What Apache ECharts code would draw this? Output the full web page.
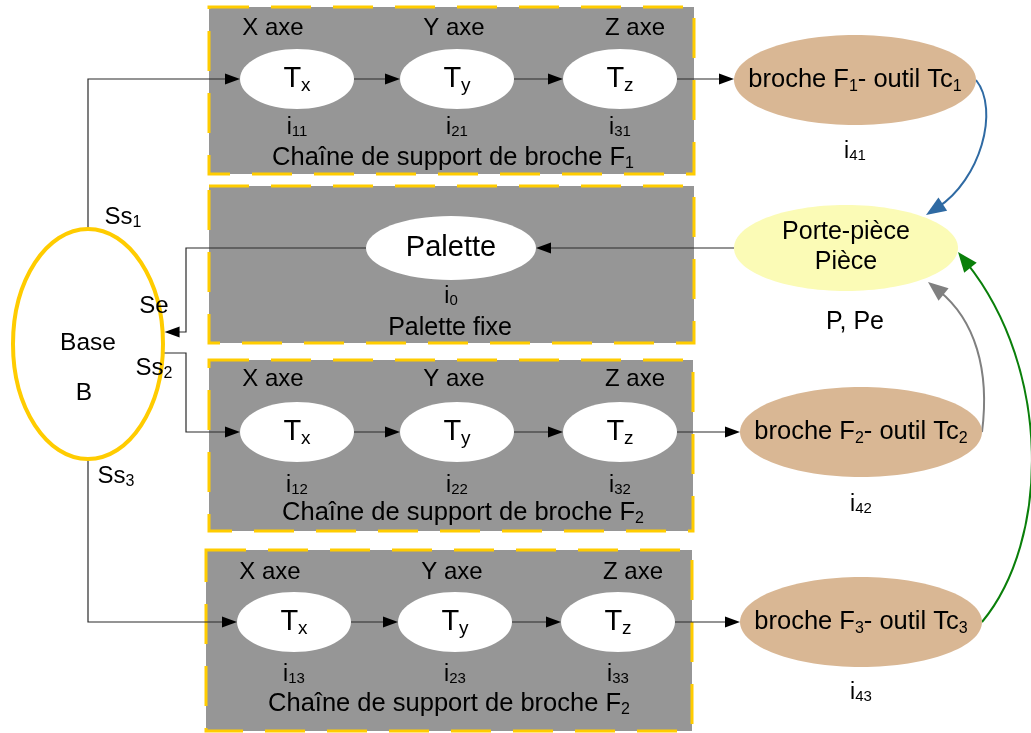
<!DOCTYPE html>
<html>
<head>
<meta charset="utf-8">
<script src="https://cdn.jsdelivr.net/npm/echarts@6/dist/echarts.min.js"></script>
<style>
html,body{margin:0;padding:0;background:#fff;}
#c{width:1031px;height:733px;}
</style>
</head>
<body>
<div id="c"></div>
<script>
// ---------------- data (texts of the diagram) ----------------
const axisLabels = ['X axe', 'Y axe', 'Z axe'];
const jointSubs = ['x', 'y', 'z'];                       // T_x, T_y, T_z
const chainIndexSubs = [['11', '21', '31'], ['12', '22', '32'], ['13', '23', '33']];
const chainTitleText = 'Chaîne de support de broche F';
const chainTitleSubs = ['1', '2', '2'];
const spindleSubs = ['1', '2', '3'];                     // broche F_n- outil Tc_n
const spindleIndexSubs = ['41', '42', '43'];
const baseOutputSubs = ['1', '2', '3'];                  // Ss_n
const paletteNode = 'Palette';
const paletteIndexSub = '0';
const paletteTitle = 'Palette fixe';
const workpieceLines = ['Porte-pièce', 'Pièce'];
const workpieceNote = 'P, Pe';
const baseLines = ['Base', 'B'];
const baseInput = 'Se';

// ---------------- layout (data space = canvas units) ----------------
const G = {
  chains: [
    {box: [209, 7, 694, 174], y: 79, cols: [297, 457, 620], axisY: 28, idxY: 128, titleX: 453, titleY: 158},
    {box: [209, 360, 693, 531], y: 432, cols: [297, 457, 620], axisY: 379, idxY: 486, titleX: 463, titleY: 513},
    {box: [206, 550, 692, 731], y: 622, cols: [294, 455, 618], axisY: 572, idxY: 675, titleX: 449, titleY: 704}
  ],
  axisDx: [-24, -3, 15],
  joint: {rx: 57, ry: 30},
  spindles: [{x: 855, y: 80, idxY: 152}, {x: 861, y: 432, idxY: 505}, {x: 861, y: 622, idxY: 693}],
  spindle: {rx: 121, ry: 45},
  paletteBox: [209, 186, 694, 343],
  palette: {x: 451, y: 248, rx: 85, ry: 32, idxY: 297, titleX: 450, titleY: 328},
  work: {x: 846, y: 248, rx: 112, ry: 43, line1Y: 232, line2Y: 262, noteX: 855, noteY: 322},
  base: {x: 88, y: 344, rx: 75, ry: 115, line1X: 88, line1Y: 343, line2X: 84, line2Y: 393},
  ssPos: [[123, 217], [154, 368], [116, 476]],
  sePos: [154, 306],
  busX: 186, ss2Y: 353, seY: 332,
  curves: [
    {c1: [1000, 110], c2: [980, 180], end: [926, 215], color: '#2F6AA3'},
    {c1: [990, 370], c2: [975, 320], end: [928, 282], color: '#808080'},
    {c1: [1050, 540], c2: [1052, 370], end: [958, 252], color: '#0A7F0A'}
  ]
};

const FONT = '"Liberation Sans", Arial, Helvetica, sans-serif';
const LINE = '#2a2a2a';
const BOX_FILL = '#969696';
const YELLOW = '#FFCC00';
const SPINDLE_FILL = '#D9B794';
const WORK_FILL = '#FBFBB6';

// ---------------- element builders ----------------
const elements = [];

function richStyle(mainSize, subSize, drop) {
  const k = 0.34;
  const pad = Math.max(0, 2 * (drop + k * (mainSize - subSize)));
  return {
    m: {fontSize: mainSize, fontFamily: FONT, fill: '#000', lineHeight: mainSize + 4},
    s: {fontSize: subSize, fontFamily: FONT, fill: '#000', padding: [pad, 0, 0, 0]}
  };
}

function addText(x, y, parts, mainSize, subSize, drop) {
  const text = parts.map(p => '{' + p[0] + '|' + p[1] + '}').join('');
  const rich = richStyle(mainSize, subSize || mainSize, drop || 0);
  elements.push(api => {
    const c = api.coord([x, y]);
    return {
      type: 'text', x: c[0], y: c[1], z2: 10,
      style: {text: text, rich: rich, align: 'center', verticalAlign: 'middle',
              fontSize: mainSize, fontFamily: FONT, fill: '#000'}
    };
  });
}

function addBox(b) {
  elements.push(api => {
    const p0 = api.coord([b[0], b[1]]), p1 = api.coord([b[2], b[3]]);
    return {
      type: 'rect', z2: 0,
      shape: {x: p0[0], y: p0[1], width: p1[0] - p0[0], height: p1[1] - p0[1]},
      style: {fill: BOX_FILL, stroke: YELLOW, lineWidth: 3, lineDash: [40, 22]}
    };
  });
}

function addEllipse(cx, cy, rx, ry, fill, stroke, lw) {
  elements.push(api => {
    const c = api.coord([cx, cy]);
    const s = api.size([rx, ry]);
    return {
      type: 'ellipse', z2: 5,
      shape: {cx: c[0], cy: c[1], rx: s[0], ry: s[1]},
      style: {fill: fill, stroke: stroke || null, lineWidth: lw || 0}
    };
  });
}

function arrowHead(tip, from, len, half, color) {
  const dx = tip[0] - from[0], dy = tip[1] - from[1];
  const d = Math.sqrt(dx * dx + dy * dy) || 1;
  const ux = dx / d, uy = dy / d;
  const bx = tip[0] - ux * len, by = tip[1] - uy * len;
  return {
    type: 'polygon', z2: 4,
    shape: {points: [tip, [bx - uy * half, by + ux * half], [bx + uy * half, by - ux * half]]},
    style: {fill: color, stroke: null}
  };
}

function addArrowLine(points) {
  elements.push(api => {
    const pts = points.map(p => api.coord(p));
    const n = pts.length;
    const tip = pts[n - 1], prev = pts[n - 2];
    const dx = tip[0] - prev[0], dy = tip[1] - prev[1];
    const d = Math.sqrt(dx * dx + dy * dy) || 1;
    const lineEnd = pts.slice(0, n - 1).concat([[tip[0] - dx / d * 10, tip[1] - dy / d * 10]]);
    return {
      type: 'group',
      children: [
        {type: 'polyline', z2: 3, shape: {points: lineEnd},
         style: {stroke: LINE, lineWidth: 1.2, fill: null}},
        arrowHead(tip, prev, 15, 5.5, '#000')
      ]
    };
  });
}

function addCurve(start, c1, c2, end, color) {
  elements.push(api => {
    const p0 = api.coord(start), p1 = api.coord(c1), p2 = api.coord(c2), p3 = api.coord(end);
    const dx = p3[0] - p2[0], dy = p3[1] - p2[1];
    const d = Math.sqrt(dx * dx + dy * dy) || 1;
    const e = [p3[0] - dx / d * 14, p3[1] - dy / d * 14];
    return {
      type: 'group',
      children: [
        {type: 'bezierCurve', z2: 3,
         shape: {x1: p0[0], y1: p0[1], cpx1: p1[0], cpy1: p1[1], cpx2: p2[0], cpy2: p2[1], x2: e[0], y2: e[1]},
         style: {stroke: color, lineWidth: 2, fill: null}},
        arrowHead(p3, p2, 20, 8, color)
      ]
    };
  });
}

function baseEdgeX(y) {
  const b = G.base;
  const t = (y - b.y) / b.ry;
  return b.x + b.rx * Math.sqrt(Math.max(0, 1 - t * t));
}

// ---------------- build the diagram ----------------
G.chains.forEach(ch => addBox(ch.box));
addBox(G.paletteBox);

G.chains.forEach((ch, r) => {
  const jr = G.joint.rx;
  for (let c = 0; c < 2; c++) {
    addArrowLine([[ch.cols[c] + jr, ch.y], [ch.cols[c + 1] - jr, ch.y]]);
  }
  const sp = G.spindles[r];
  addArrowLine([[ch.cols[2] + jr, ch.y], [sp.x - G.spindle.rx, ch.y]]);
});

const b = G.base;
const ch0 = G.chains[0], ch1 = G.chains[1], ch2 = G.chains[2];
addArrowLine([[b.x, b.y - b.ry], [b.x, ch0.y], [ch0.cols[0] - G.joint.rx, ch0.y]]);
addArrowLine([[baseEdgeX(G.ss2Y), G.ss2Y], [G.busX, G.ss2Y], [G.busX, ch1.y], [ch1.cols[0] - G.joint.rx, ch1.y]]);
addArrowLine([[b.x, b.y + b.ry], [b.x, ch2.y], [ch2.cols[0] - G.joint.rx, ch2.y]]);

const pa = G.palette, wk = G.work;
addArrowLine([[wk.x - wk.rx, wk.y], [pa.x + pa.rx, pa.y]]);
addArrowLine([[pa.x - pa.rx, pa.y], [G.busX, pa.y], [G.busX, G.seY], [baseEdgeX(G.seY) + 2, G.seY]]);

G.curves.forEach((cv, r) => {
  const sp = G.spindles[r];
  addCurve([sp.x + G.spindle.rx, sp.y], cv.c1, cv.c2, cv.end, cv.color);
});

G.chains.forEach((ch, r) => {
  ch.cols.forEach((x, c) => {
    addEllipse(x, ch.y, G.joint.rx, G.joint.ry, '#fff');
    addText(x, ch.y, [['m', 'T'], ['s', jointSubs[c]]], 29, 19, 3.5);
    addText(x + G.axisDx[c], ch.axisY, [['m', axisLabels[c]]], 24);
    addText(x, ch.idxY, [['m', 'i'], ['s', chainIndexSubs[r][c]]], 23, 15, 1);
  });
  addText(ch.titleX, ch.titleY, [['m', chainTitleText], ['s', chainTitleSubs[r]]], 25.5, 16, 2.5);
  const sp = G.spindles[r];
  addEllipse(sp.x, sp.y, G.spindle.rx, G.spindle.ry, SPINDLE_FILL);
  addText(sp.x, sp.y, [['m', 'broche F'], ['s', spindleSubs[r]], ['m', '- outil Tc'], ['s', spindleSubs[r]]], 25.5, 16, 3);
  addText(sp.x, sp.idxY, [['m', 'i'], ['s', spindleIndexSubs[r]]], 23, 15, 1);
});

addEllipse(pa.x, pa.y, pa.rx, pa.ry, '#fff');
addText(pa.x, pa.y, [['m', paletteNode]], 29);
addText(pa.x, pa.idxY, [['m', 'i'], ['s', paletteIndexSub]], 23, 15, 1);
addText(pa.titleX, pa.titleY, [['m', paletteTitle]], 25);

addEllipse(wk.x, wk.y, wk.rx, wk.ry, WORK_FILL);
addText(wk.x, wk.line1Y, [['m', workpieceLines[0]]], 25);
addText(wk.x, wk.line2Y, [['m', workpieceLines[1]]], 25);
addText(wk.noteX, wk.noteY, [['m', workpieceNote]], 25);

addEllipse(b.x, b.y, b.rx, b.ry, '#fff', YELLOW, 4);
addText(b.line1X, b.line1Y, [['m', baseLines[0]]], 24.5);
addText(b.line2X, b.line2Y, [['m', baseLines[1]]], 24.5);
G.ssPos.forEach((p, i) => addText(p[0], p[1], [['m', 'Ss'], ['s', baseOutputSubs[i]]], 24, 16, 2.5));
addText(G.sePos[0], G.sePos[1], [['m', baseInput]], 24);

const chart = echarts.init(document.getElementById('c'), null, {renderer: 'canvas'});
chart.setOption({
  animation: false,
  backgroundColor: '#ffffff',
  grid: {left: 0, right: 0, top: 0, bottom: 0},
  xAxis: {type: 'value', min: 0, max: 1031, show: false},
  yAxis: {type: 'value', min: 0, max: 733, inverse: true, show: false},
  series: [{
    type: 'custom',
    coordinateSystem: 'cartesian2d',
    silent: true,
    clip: false,
    data: elements.map((e, i) => [i, 0]),
    renderItem: (params, api) => elements[params.dataIndex](api)
  }]
});
</script>
</body>
</html>
